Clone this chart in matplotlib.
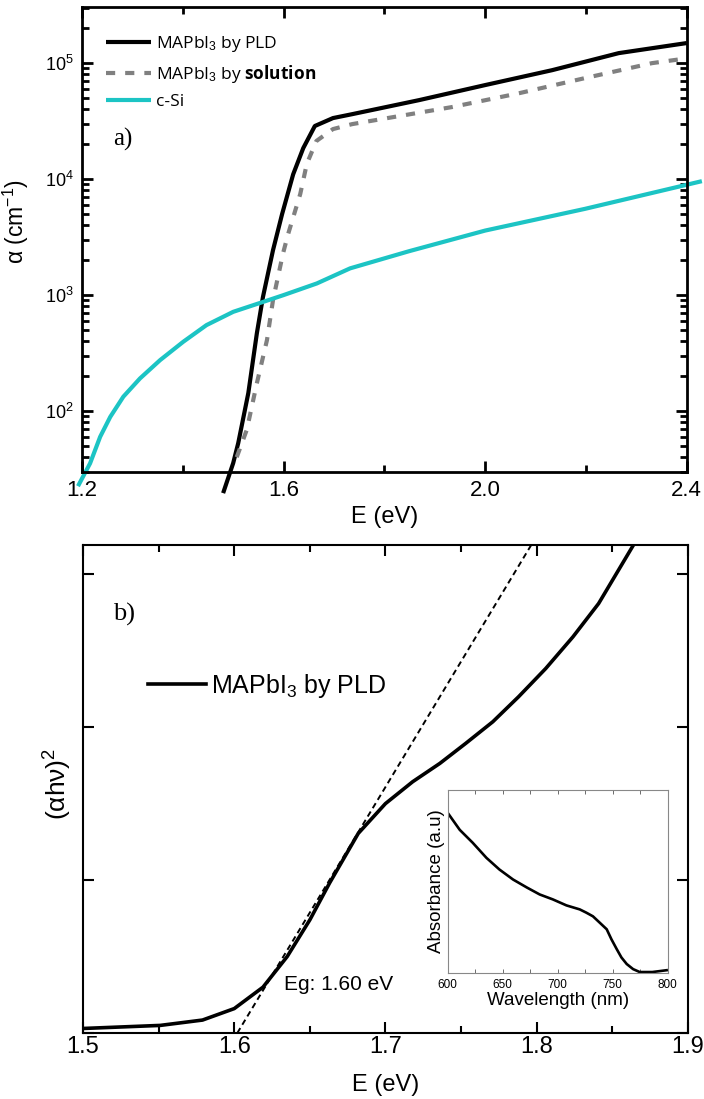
import numpy as np
import matplotlib
matplotlib.use("Agg")
import matplotlib.pyplot as plt
from matplotlib.ticker import LogLocator, MultipleLocator, NullFormatter, NullLocator

plt.rcParams['font.family'] = ['Liberation Sans', 'DejaVu Sans']
plt.rcParams['mathtext.fontset'] = 'custom'
plt.rcParams['mathtext.rm'] = 'Liberation Sans'
plt.rcParams['mathtext.it'] = 'Liberation Sans:italic'
plt.rcParams['mathtext.bf'] = 'Open Sans:bold'

### Panel a) absorption coefficient (cm^-1) vs E (eV)
E_pld    = [1.48, 1.50, 1.51, 1.53, 1.547, 1.559, 1.579, 1.597, 1.619, 1.639, 1.662,
            1.698, 1.736, 1.869, 2.0, 2.133, 2.265, 2.4]
a_pld    = [19.6, 35.6, 53, 143, 470, 961, 2440, 4990, 11000, 18500, 28700,
            33600, 36300, 48000, 64700, 87000, 122000, 149000]

E_sol    = [1.507, 1.527, 1.547, 1.567, 1.579, 1.599, 1.609, 1.633, 1.646, 1.665,
            1.698, 1.736, 1.934, 2.067, 2.198, 2.331, 2.4]
a_sol    = [40, 69, 174, 409, 906, 2300, 3360, 7430, 13500, 21300,
            27000, 29800, 41800, 55000, 74300, 100000, 110000]

E_si     = [1.192, 1.216, 1.236, 1.256, 1.282, 1.315, 1.355, 1.401, 1.447, 1.50,
            1.56, 1.60, 1.666, 1.732, 1.849, 2.0, 2.198, 2.43]
a_si     = [22.5, 35.4, 60, 89, 133, 191, 275, 396, 551, 717,
            875, 1000, 1260, 1700, 2390, 3600, 5540, 9600]

### Panel b) Tauc plot
E_tauc   = [1.5, 1.551, 1.579, 1.600, 1.619, 1.635, 1.650, 1.663, 1.682, 1.700,
            1.718, 1.736, 1.753, 1.771, 1.788, 1.806, 1.824, 1.841, 1.864]
tauc     = [0.03, 0.05, 0.085, 0.16, 0.30, 0.50, 0.74, 0.98, 1.305, 1.50,
            1.643, 1.763, 1.893, 2.035, 2.198, 2.383, 2.59, 2.808, 3.19]
fit_E    = [1.602, 1.797]
fit_y    = [0.0, 3.2]

### Inset absorbance spectrum
wl       = [600, 610.9, 622.7, 635.2, 647, 659.4, 672, 683.6, 695.5, 707.9, 720, 726,
            732, 738, 744.5, 748.8, 753.6, 757.9, 762.7, 768.5, 774.5, 786, 799]
absorb   = [0.874, 0.781, 0.71, 0.627, 0.563, 0.508, 0.464, 0.426, 0.399, 0.366, 0.344, 0.326,
            0.306, 0.272, 0.235, 0.18, 0.126, 0.08, 0.044, 0.016, 0.0, 0.0, 0.01]

cyan = '#1cc4c4'


def style_ticks(ax, width):
    for s in ax.spines.values():
        s.set_linewidth(width)
    ax.tick_params(which='both', direction='in', top=True, right=True, width=width)


def main():
    fig = plt.figure(figsize=(7.04, 10.99), dpi=100)

    # --- panel a
    ax1 = fig.add_axes([0.1165, 0.5705, 0.859, 0.423])
    ax1.set_yscale('log')
    ax1.plot(E_pld, a_pld, color='black', lw=3, label=r'MAPbI$_3$ by PLD',
             clip_on=False, solid_capstyle='butt')
    ax1.plot(E_sol, a_sol, color='#808080', lw=3, ls=(0, (2.2, 2.4)),
             label=r'MAPbI$_3$ by $\mathbf{solution}$')
    ax1.plot(E_si, a_si, color=cyan, lw=3, label='c-Si', clip_on=False,
             solid_capstyle='butt')
    ax1.set_xlim(1.2, 2.4)
    ax1.set_ylim(29.8, 3.04e5)
    ax1.xaxis.set_major_locator(MultipleLocator(0.4))
    ax1.xaxis.set_minor_locator(MultipleLocator(0.2))
    ax1.xaxis.set_major_formatter(plt.FuncFormatter(lambda v, p: '%.1f' % v))
    ax1.yaxis.set_major_locator(LogLocator(base=10))
    ax1.yaxis.set_minor_locator(LogLocator(base=10, subs=np.arange(2, 10)))
    ax1.yaxis.set_minor_formatter(NullFormatter())
    style_ticks(ax1, 2)
    ax1.tick_params(which='major', length=8)
    ax1.tick_params(which='minor', length=5)
    ax1.tick_params(axis='x', labelsize=16, pad=6)
    ax1.tick_params(axis='y', labelsize=13, pad=6)
    ax1.set_xlabel('E (eV)', fontsize=17)
    ax1.xaxis.set_label_coords(0.5, -0.073)
    ax1.set_ylabel(r'α (cm$^{-1}$)', fontsize=16.5)
    ax1.yaxis.set_label_coords(-0.084, 0.538)
    ax1.text(0.052, 0.715, 'a)', transform=ax1.transAxes, fontsize=18,
             family='Liberation Serif', va='center')
    ax1.legend(loc='upper left', bbox_to_anchor=(0.013, 0.975), frameon=False,
               prop={'family': 'Open Sans', 'size': 12.5}, handlelength=2.6,
               handletextpad=0.3, labelspacing=0.5)

    # --- panel b
    ax2 = fig.add_axes([0.118, 0.060, 0.859, 0.444])
    ax2.plot(E_tauc, tauc, color='black', lw=2.6, label=r'MAPbI$_3$ by PLD')
    ax2.plot(fit_E, fit_y, color='black', lw=1.4, ls=(0, (3, 2)))
    ax2.set_xlim(1.5, 1.9)
    ax2.set_ylim(0, 3.19)
    ax2.xaxis.set_major_locator(MultipleLocator(0.1))
    ax2.xaxis.set_minor_locator(MultipleLocator(0.05))
    ax2.xaxis.set_major_formatter(plt.FuncFormatter(lambda v, p: '%.1f' % v))
    ax2.yaxis.set_major_locator(MultipleLocator(1))
    ax2.yaxis.set_minor_locator(NullLocator())
    style_ticks(ax2, 1.5)
    ax2.tick_params(which='major', length=8)
    ax2.tick_params(which='minor', length=5)
    ax2.tick_params(axis='x', labelsize=17, pad=2)
    ax2.tick_params(axis='y', labelleft=False)
    ax2.set_xlabel('E (eV)', fontsize=17)
    ax2.xaxis.set_label_coords(0.5, -0.084)
    ax2.set_ylabel(r'(αhν)$^2$', fontsize=19)
    ax2.yaxis.set_label_coords(-0.015, 0.51)
    ax2.text(0.049, 0.857, 'b)', transform=ax2.transAxes, fontsize=19,
             family='Liberation Serif', va='center')
    ax2.text(1.633, 0.32, 'Eg: 1.60 eV', fontsize=15, va='center')
    ax2.legend(loc='center left', bbox_to_anchor=(0.108, 0.711), frameon=False,
               fontsize=18, handlelength=2.3, handletextpad=0.2,
               borderaxespad=0, borderpad=0)

    # --- inset
    ax3 = fig.add_axes([0.636, 0.1147, 0.3125, 0.1665])
    ax3.plot(wl, absorb, color='black', lw=1.9)
    ax3.set_xlim(600, 800)
    ax3.set_ylim(-0.005, 1)
    ax3.xaxis.set_major_locator(MultipleLocator(50))
    ax3.xaxis.set_minor_locator(MultipleLocator(25))
    ax3.yaxis.set_major_locator(NullLocator())
    for s in ax3.spines.values():
        s.set_linewidth(0.8)
        s.set_color('#888888')
    ax3.tick_params(which='both', direction='in', top=True, length=3, width=0.6,
                    color='#555555', labelsize=8.5, pad=4)
    ax3.set_xlabel('Wavelength (nm)', fontsize=13.5, labelpad=1)
    ax3.set_ylabel('Absorbance (a.u)', fontsize=13.5, labelpad=2)

    fig.savefig('out.png', dpi=100)


if __name__ == '__main__':
    main()
